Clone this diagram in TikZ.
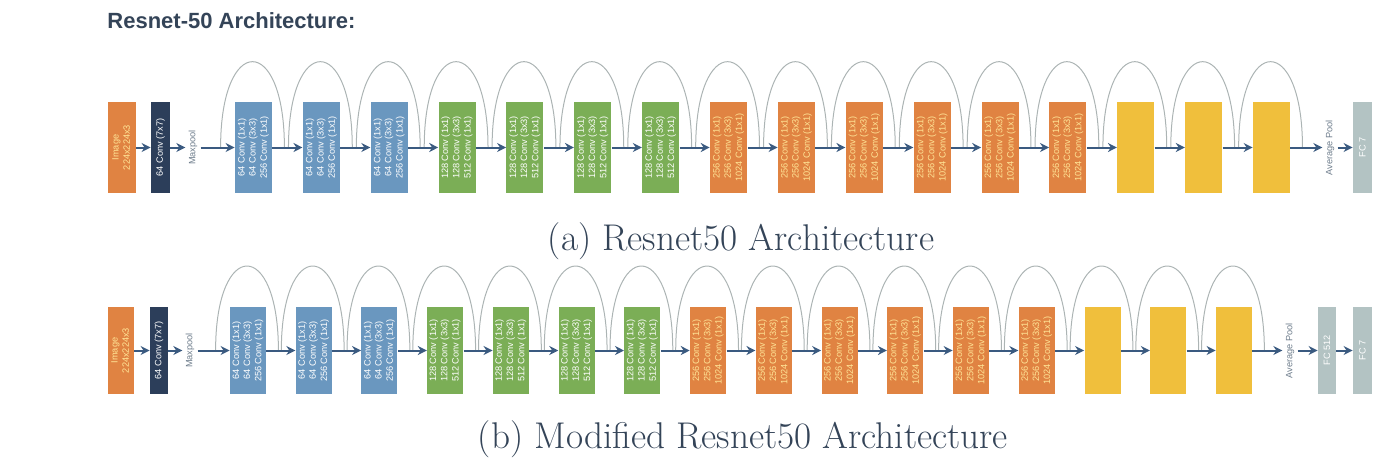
\documentclass[tikz,border=0pt]{standalone}
\usepackage{fontspec}
\setsansfont{Liberation Sans}
\usetikzlibrary{arrows.meta}

\definecolor{resorange}{RGB}{224,131,66}
\definecolor{resnavy}{RGB}{44,62,90}
\definecolor{resblue}{RGB}{106,151,191}
\definecolor{resgreen}{RGB}{123,174,86}
\definecolor{resyellow}{RGB}{240,191,60}
\definecolor{resgray}{RGB}{179,195,195}
\definecolor{arrcol}{RGB}{58,90,128}
\definecolor{arccol}{RGB}{172,180,180}
\definecolor{pooltext}{RGB}{110,125,140}
\definecolor{orangetext}{RGB}{255,228,150}
\definecolor{capcol}{RGB}{52,68,88}

\newcommand{\convtxt}[3]{\rotatebox{90}{\begin{tabular}{@{}c@{}}#1 Conv (1x1)\\#2 Conv (3x3)\\#3 Conv (1x1)\end{tabular}}}
\newcommand{\imgtxt}{\rotatebox{90}{\begin{tabular}{@{}c@{}}Image\\224x224x3\end{tabular}}}

\tikzset{
  blk/.style={minimum width=18.5pt, minimum height=45.5pt, inner sep=0pt,
    font=\sffamily\fontsize{4.6}{5.6}\selectfont, text=white},
  blkb/.style={blk, minimum width=18pt, minimum height=43.5pt},
  pooltxt/.style={rotate=90, inner sep=1.5pt, text=pooltext,
    font=\sffamily\fontsize{4.6}{5.6}\selectfont},
  arr/.style={-{Stealth[length=4.5pt,width=4.5pt]}, line width=1pt, draw=arrcol},
  skiparc/.style={draw=arccol, line width=0.5pt}
}

\begin{document}
\begin{tikzpicture}[x=0.5pt, y=0.5pt]
  \useasboundingbox (0,0) rectangle (1400,473);

  \node[anchor=west, inner sep=0pt, text=capcol, font=\sffamily\bfseries\fontsize{11}{13}\selectfont] (title) at (107,452) {Resnet-50 Architecture:};

  % row (a)
  \node[blk, fill=resorange, minimum width=14pt, text=orangetext] (aimg) at (122,325.5) {\imgtxt};
  \node[blk, fill=resnavy, minimum width=9.5pt] (aconv) at (160.5,325.5) {\rotatebox{90}{64 Conv (7x7)}};
  \node[pooltxt] (apool) at (193,325.5) {Maxpool};
  \foreach \i in {1,2,3}
    \node[blk, fill=resblue] (a\i) at ({253.5+67.87*(\i-1)},325.5) {\convtxt{64}{64}{256}};
  \foreach \i in {4,...,7}
    \node[blk, fill=resgreen] (a\i) at ({253.5+67.87*(\i-1)},325.5) {\convtxt{128}{128}{512}};
  \foreach \i in {8,...,13}
    \node[blk, fill=resorange, text=orangetext] (a\i) at ({253.5+67.87*(\i-1)},325.5) {\convtxt{256}{256}{1024}};
  \foreach \i in {14,15,16}
    \node[blk, fill=resyellow] (a\i) at ({253.5+67.87*(\i-1)},325.5) {};
  \node[pooltxt] (aavg) at (1330,325.5) {Average Pool};
  \node[blk, fill=resgray, minimum width=9.5pt] (afc) at (1362.5,325.5) {\rotatebox{90}{FC 7}};

  \foreach \i in {1,...,16}
    \draw[skiparc] ([xshift=-7pt]a\i.west) to[out=90, in=90, looseness=4.6] ([xshift=6pt]a\i.east);
  \draw[arr] (aimg) -- (aconv);
  \draw[arr] (aconv) -- (apool);
  \draw[arr] (apool) -- (a1);
  \foreach \i [count=\j from 2] in {1,...,15}
    \draw[arr] (a\i) -- (a\j);
  \draw[arr] (a16) -- (aavg);
  \draw[arr] (aavg) -- (afc);

  \node[text=capcol, font=\fontsize{18.6}{22}\selectfont] (capa) at (741,232) {(a) Resnet50 Architecture};

  % row (b)
  \node[blkb, fill=resorange, minimum width=13pt, text=orangetext] (bimg) at (121,122.5) {\imgtxt};
  \node[blkb, fill=resnavy, minimum width=9pt] (bconv) at (159,122.5) {\rotatebox{90}{64 Conv (7x7)}};
  \node[pooltxt] (bpool) at (190,122.5) {Maxpool};
  \foreach \i in {1,2,3}
    \node[blkb, fill=resblue] (b\i) at ({248+65.73*(\i-1)},122.5) {\convtxt{64}{64}{256}};
  \foreach \i in {4,...,7}
    \node[blkb, fill=resgreen] (b\i) at ({248+65.73*(\i-1)},122.5) {\convtxt{128}{128}{512}};
  \foreach \i in {8,...,13}
    \node[blkb, fill=resorange, text=orangetext] (b\i) at ({248+65.73*(\i-1)},122.5) {\convtxt{256}{256}{1024}};
  \foreach \i in {14,15,16}
    \node[blkb, fill=resyellow] (b\i) at ({248+65.73*(\i-1)},122.5) {};
  \node[pooltxt] (bavg) at (1290,122.5) {Average Pool};
  \node[blkb, fill=resgray, minimum width=9pt] (bfc) at (1327,122.5) {\rotatebox{90}{FC 512}};
  \node[blkb, fill=resgray, minimum width=9.5pt] (bout) at (1362.5,122.5) {\rotatebox{90}{FC 7}};

  \foreach \i in {1,...,16}
    \draw[skiparc] ([xshift=-7pt]b\i.west) to[out=90, in=90, looseness=4.6] ([xshift=6pt]b\i.east);
  \draw[arr] (bimg) -- (bconv);
  \draw[arr] (bconv) -- (bpool);
  \draw[arr] (bpool) -- (b1);
  \foreach \i [count=\j from 2] in {1,...,15}
    \draw[arr] (b\i) -- (b\j);
  \draw[arr] (b16) -- (bavg);
  \draw[arr] (bavg) -- (bfc);
  \draw[arr] (bfc) -- (bout);

  \node[text=capcol, font=\fontsize{18.6}{22}\selectfont] (capb) at (743,34) {(b) Modified Resnet50 Architecture};
\end{tikzpicture}
\end{document}
